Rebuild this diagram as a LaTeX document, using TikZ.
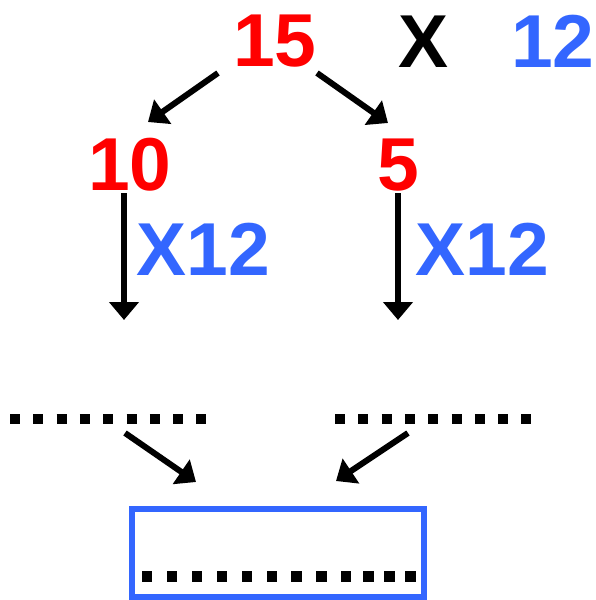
\documentclass[tikz,border=0pt]{standalone}
\usepackage{fontspec}
\setmainfont{Liberation Sans}
\usetikzlibrary{arrows.meta}
\definecolor{myred}{HTML}{FF0000}
\definecolor{myblue}{HTML}{3366FF}
\tikzset{
  num/.style={anchor=base, inner sep=0pt, font=\fontsize{75}{75}\selectfont\bfseries},
  arr/.style={line width=6pt, -{Triangle[width=29pt,length=18pt]}},
  dots/.style={line width=10pt, dash pattern=on 10pt off 13.3pt},
}
\begin{document}
\begin{tikzpicture}[x=1pt,y=-1pt]
\useasboundingbox (0,0) rectangle (596,600);
% texts
\node[num, text=myred] (n15) at (275,66) {15};
\node[num, text=black] (nx) at (424,67) {X};
\node[num, text=myblue] (n12) at (553,67) {12};
\node[num, text=myred] (n10) at (130,190) {10};
\node[num, text=myred] (n5) at (398.5,190) {5};
\node[num, text=myblue] (xl) at (203.5,275) {X12};
\node[num, text=myblue] (xr) at (482.5,275) {X12};
% arrow end points
\coordinate (a1s) at (218,73);
\coordinate (a1e) at (148,122);
\coordinate (a2s) at (317,73);
\coordinate (a2e) at (388,123);
\coordinate (v1s) at (124,193);
\coordinate (v1e) at (124,320);
\coordinate (v2s) at (398,193);
\coordinate (v2e) at (398,320);
\coordinate (b1s) at (125,433);
\coordinate (b1e) at (196,482);
\coordinate (b2s) at (408,433);
\coordinate (b2e) at (336,481);
\draw[arr] (a1s) -- (a1e);
\draw[arr] (a2s) -- (a2e);
\draw[arr] (v1s) -- (v1e);
\draw[arr] (v2s) -- (v2e);
\draw[arr] (b1s) -- (b1e);
\draw[arr] (b2s) -- (b2e);
% dotted lines
\coordinate (d1s) at (10,419);
\coordinate (d1e) at (207,419);
\coordinate (d2s) at (335,419);
\coordinate (d2e) at (531,419);
\draw[dots] (d1s) -- (d1e);
\draw[dots] (d2s) -- (d2e);
% box
\node[draw=myblue, line width=5.5pt, minimum width=292pt, minimum height=88pt, inner sep=0pt, anchor=north west] (box) at (129.25,506.25) {};
\foreach \xx in {141.7,166.7,191.7,216.7,241.7,266.7,291,316,340.7,363.3,384,405}
  \fill (\xx,571) rectangle ++(10.7,10.5);
\end{tikzpicture}
\end{document}
